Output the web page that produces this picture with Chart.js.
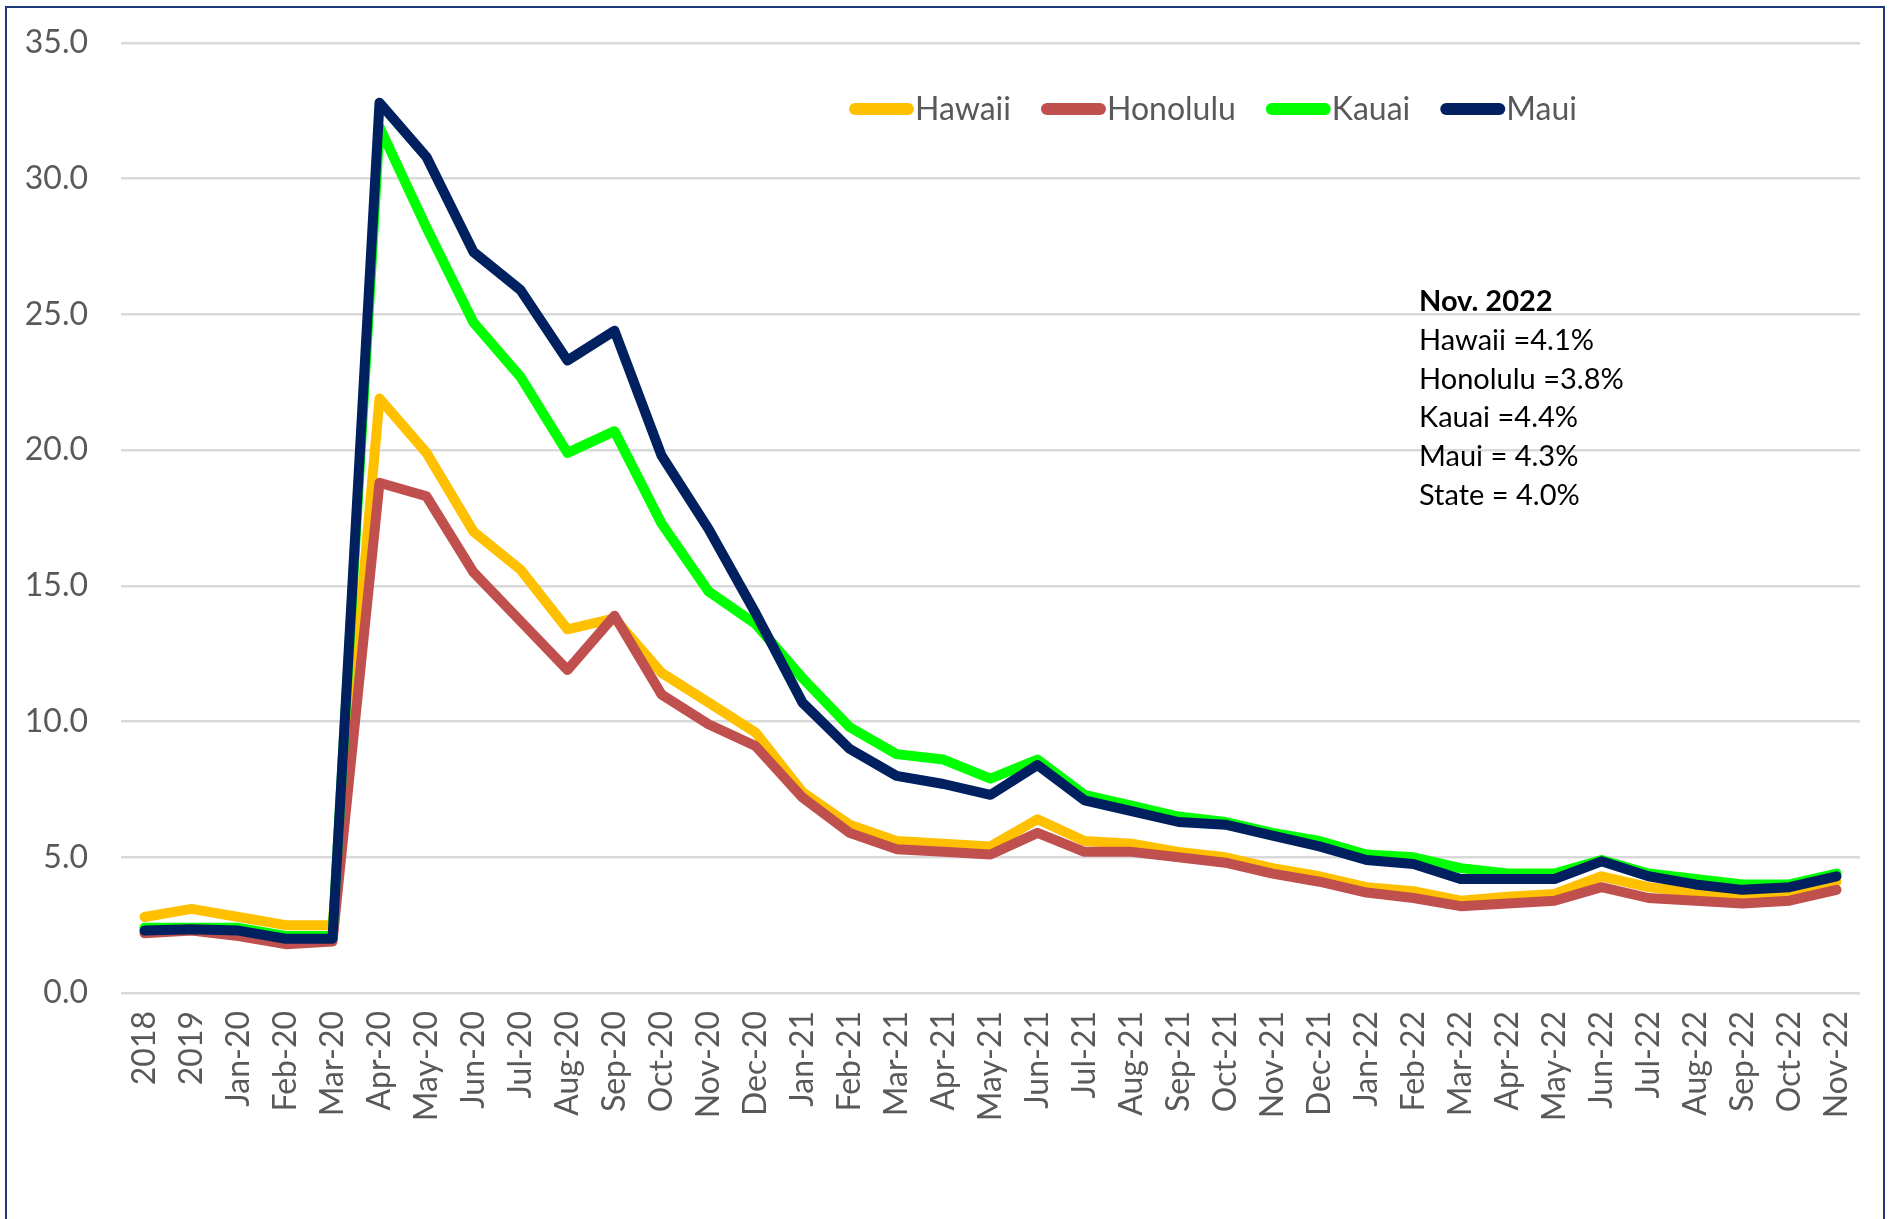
<!DOCTYPE html>
<html>
<head>
<meta charset="utf-8">
<script src="https://cdn.jsdelivr.net/npm/chart.js@4.4.1/dist/chart.umd.min.js"></script>
<style>
html,body{margin:0;padding:0;background:#fff;overflow:hidden}
.frame{position:absolute;left:5px;top:6px;width:1880px;height:1300px;border:2px solid #1F3A78;box-sizing:border-box}
.wrap{position:absolute;left:0;top:0;width:1894px;height:1219px}
</style>
</head>
<body>
<div class="frame"></div>
<div class="wrap"><canvas id="c" width="1894" height="1219"></canvas></div>
<script>
const labels=['2018','2019','Jan-20','Feb-20','Mar-20','Apr-20','May-20','Jun-20','Jul-20','Aug-20','Sep-20','Oct-20','Nov-20','Dec-20',
'Jan-21','Feb-21','Mar-21','Apr-21','May-21','Jun-21','Jul-21','Aug-21','Sep-21','Oct-21','Nov-21','Dec-21',
'Jan-22','Feb-22','Mar-22','Apr-22','May-22','Jun-22','Jul-22','Aug-22','Sep-22','Oct-22','Nov-22'];

const hawaii=[2.8,3.1,2.8,2.5,2.5,21.9,19.9,17.0,15.6,13.4,13.8,11.8,10.7,9.6,
7.4,6.2,5.6,5.5,5.4,6.4,5.6,5.5,5.2,5.0,4.6,4.3,
3.9,3.75,3.4,3.55,3.65,4.3,3.9,3.7,3.5,3.6,4.1];
const honolulu=[2.2,2.3,2.1,1.8,1.9,18.8,18.3,15.5,13.7,11.9,13.9,11.0,9.9,9.1,
7.2,5.9,5.3,5.2,5.1,5.9,5.2,5.2,5.0,4.8,4.4,4.1,
3.7,3.5,3.2,3.3,3.4,3.9,3.5,3.4,3.3,3.4,3.8];
const kauai=[2.4,2.4,2.4,2.1,2.1,31.9,28.2,24.7,22.7,19.9,20.7,17.3,14.8,13.6,
11.6,9.8,8.8,8.6,7.9,8.6,7.3,6.9,6.5,6.3,5.9,5.6,
5.1,5.0,4.6,4.4,4.4,4.9,4.4,4.2,4.0,4.0,4.4];
const maui=[2.3,2.35,2.3,2.0,2.0,32.8,30.8,27.3,25.9,23.3,24.4,19.8,17.1,14.0,
10.7,9.0,8.0,7.7,7.3,8.4,7.1,6.7,6.3,6.2,5.8,5.4,
4.9,4.75,4.2,4.2,4.2,4.85,4.3,4.0,3.8,3.9,4.3];

const yTicks=[0,5,10,15,20,25,30,35];
const noteTitle='Nov. 2022';
const noteLines=['Hawaii =4.1%','Honolulu =3.8%','Kauai =4.4%','Maui = 4.3%','State = 4.0%'];

const FONT='Lato, "Open Sans", sans-serif';
const GREY='#595959';

function ds(label,data,color,order){
  return {label,data,borderColor:color,backgroundColor:color,borderWidth:10,pointRadius:0,
    tension:0,borderCapStyle:'round',borderJoinStyle:'round',order};
}

const legendPlugin={
  id:'customLegend',
  afterDatasetsDraw(chart){
    const ctx=chart.ctx;
    ctx.save();
    ctx.font='32px '+FONT;
    ctx.textBaseline='middle';
    let x=849;const y=109;
    chart.data.datasets.forEach(d=>{
      ctx.strokeStyle=d.borderColor;ctx.lineWidth=12;ctx.lineCap='round';
      ctx.beginPath();ctx.moveTo(x+6,y);ctx.lineTo(x+59,y);ctx.stroke();
      ctx.fillStyle=GREY;ctx.textAlign='left';
      ctx.fillText(d.label,x+66,y+1);
      x+=66+ctx.measureText(d.label).width+30;
    });
    // note block
    const nx=1419;let ny=302;
    ctx.fillStyle='#000';
    ctx.font='bold 29px '+FONT;
    ctx.fillText(noteTitle,nx,ny);
    ctx.font='29px '+FONT;
    noteLines.forEach(t=>{ny+=38.7;ctx.fillText(t,nx,ny);});
    ctx.restore();
  }
};

new Chart(document.getElementById('c'),{
  type:'line',
  data:{labels,datasets:[
    ds('Hawaii',hawaii,'#FFC000',4),
    ds('Honolulu',honolulu,'#C0504D',3),
    ds('Kauai',kauai,'#00FF00',2),
    ds('Maui',maui,'#002060',1)
  ]},
  options:{
    responsive:false,animation:false,
    layout:{padding:{left:26,right:34,top:43,bottom:0}},
    plugins:{legend:{display:false},tooltip:{enabled:false}},
    scales:{
      x:{offset:true,
        grid:{display:false,drawTicks:false},border:{display:false},
        ticks:{minRotation:90,maxRotation:90,padding:18,color:GREY,font:{family:FONT,size:32}},
        afterFit(s){s.height=226;}
      },
      y:{min:0,max:35,
        afterBuildTicks(s){s.ticks=yTicks.map(v=>({value:v}));},
        grid:{color:'#D9D9D9',lineWidth:2.5,drawTicks:false},border:{display:false},
        ticks:{padding:33,color:GREY,font:{family:FONT,size:32},callback:v=>v.toFixed(1)},
        afterFit(s){s.width=95;s.paddingTop=0;s.paddingBottom=0;}
      }
    }
  },
  plugins:[legendPlugin]
});
</script>
</body>
</html>
